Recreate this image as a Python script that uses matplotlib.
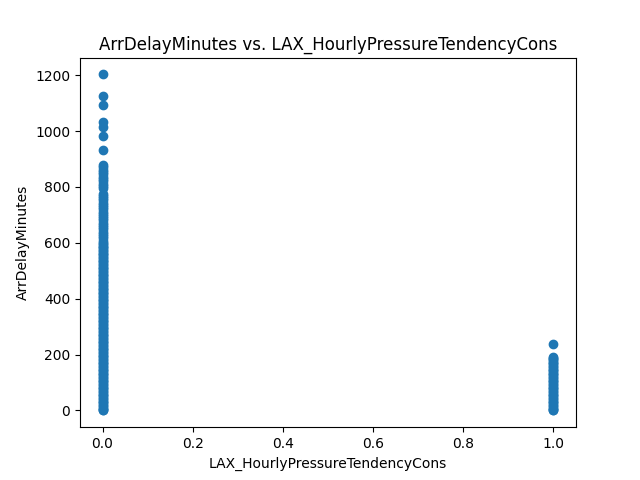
import matplotlib
matplotlib.use("Agg")
import matplotlib.pyplot as plt

delay_x0 = [1203, 1127, 1093, 1032, 1015, 982, 932, 878, 870, 862, 853, 845, 837, 828,
            820, 812, 803, 795, 776, 768, 760, 752, 744, 736, 728, 720, 712, 704, 696,
            688, 680, 672, 664, 656, 648, 640, 632, 624, 616, 608, 600,
            595, 590, 585, 580, 575, 570, 565, 560, 555, 550, 545, 540, 535, 530, 525,
            520, 515, 510, 505, 500, 495, 490, 485, 480, 475, 470, 465, 460, 455, 450,
            445, 440, 435, 430, 425, 420, 415, 410, 405, 400, 395, 390, 385, 380, 375,
            370, 365, 360, 355, 350, 345, 340, 335, 330, 325, 320, 315, 310, 305, 300,
            295, 290, 285, 280, 275, 270, 265, 260, 255, 250, 245, 240, 235, 230, 225,
            220, 215, 210, 205, 200, 195, 190, 185, 180, 175, 170, 165, 160, 155, 150,
            145, 140, 135, 130, 125, 120, 115, 110, 105, 100, 95, 90, 85, 80, 75,
            70, 65, 60, 55, 50, 45, 40, 35, 30, 25, 20, 15, 10, 5, 2, 0]
delay_x1 = [236, 192, 188, 184, 180, 175, 170, 165, 160, 155, 150, 145, 140, 135, 130,
            125, 120, 115, 110, 105, 100, 95, 90, 85, 80, 75, 70, 65, 60, 55, 50, 45,
            40, 35, 30, 25, 20, 15, 10, 5, 2, 0]

xs = [0.0] * len(delay_x0) + [1.0] * len(delay_x1)
ys = delay_x0 + delay_x1

fig, ax = plt.subplots(figsize=(6.4, 4.8), dpi=100)
ax.scatter(xs, ys)
ax.set_title("ArrDelayMinutes vs. LAX_HourlyPressureTendencyCons")
ax.set_xlabel("LAX_HourlyPressureTendencyCons")
ax.set_ylabel("ArrDelayMinutes")
fig.savefig("out.png")
